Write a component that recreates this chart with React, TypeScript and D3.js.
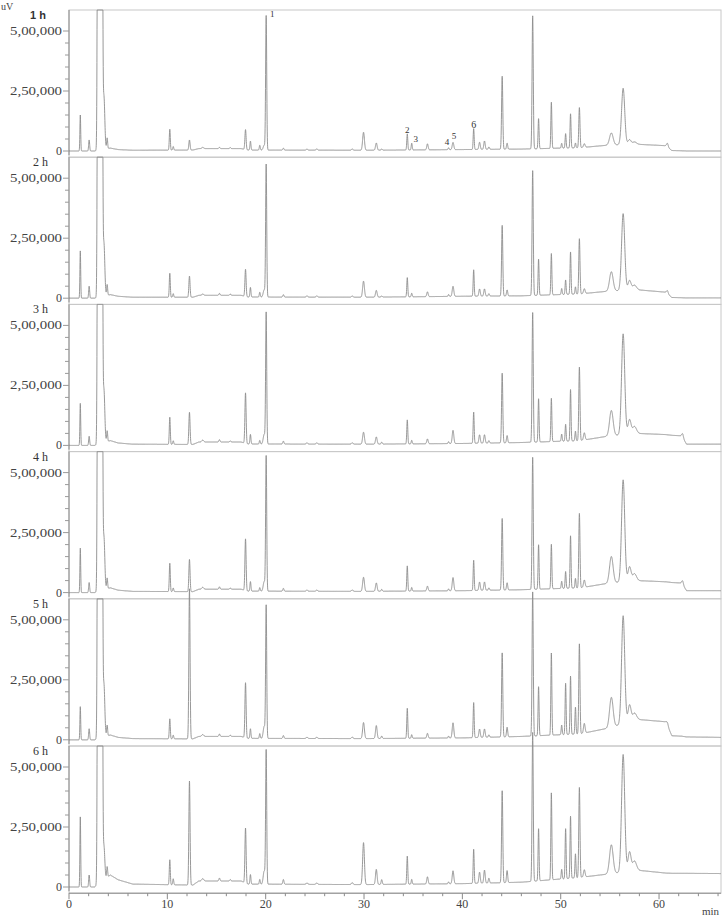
import React from 'react';
import * as d3 from 'd3';

// sample labels, one panel per hour
const panelLabels = ['1 h', '2 h', '3 h', '4 h', '5 h', '6 h'];
const yTicks = [0, 250000, 500000];
const xTicks = [0, 10, 20, 30, 40, 50, 60];

// retention time (min) and width (sigma, min) of each peak
const peakTimes = [1.15, 2.05, 3.55, 3.88, 10.25, 10.6, 12.25, 13.6, 15.3, 16.4, 17.95, 18.45, 19.4, 19.85, 20.05, 21.8, 24.2, 25.2, 28.8, 29.95, 31.25, 31.8, 34.4, 34.85, 36.45, 38.6, 39.05, 41.15, 41.75, 42.25, 42.7, 44.05, 44.55, 47.15, 47.75, 49.05, 50.1, 50.5, 51.0, 51.5, 51.9, 52.4, 55.15, 56.35, 57.0, 57.5, 60.85, 62.4];
const peakWidths = [0.04, 0.05, 0.09, 0.05, 0.05, 0.05, 0.06, 0.1, 0.06, 0.06, 0.06, 0.05, 0.05, 0.1, 0.055, 0.06, 0.08, 0.08, 0.08, 0.09, 0.08, 0.06, 0.05, 0.05, 0.07, 0.05, 0.08, 0.05, 0.07, 0.07, 0.06, 0.06, 0.06, 0.06, 0.05, 0.05, 0.05, 0.05, 0.05, 0.05, 0.06, 0.08, 0.18, 0.16, 0.15, 0.2, 0.08, 0.08];

// peak heights (uV above baseline) per panel
const heights1h = [150000, 46000, 220000, 45000, 87000, 15000, 42000, 5000, 5000, 4000, 83000, 37000, 20000, 20000, 558000, 8000, 4000, 5000, 5000, 75000, 30000, 5000, 67000, 28000, 25000, 8000, 30000, 87000, 30000, 35000, 10000, 304000, 25000, 554000, 125000, 192000, 20000, 60000, 142000, 20000, 167000, 15000, 50000, 235000, 20000, 10000, 15000, 0];
const heights2h = [197000, 50000, 220000, 45000, 100000, 15000, 88000, 5000, 8000, 5000, 113000, 40000, 20000, 30000, 550000, 10000, 5000, 5000, 5000, 67000, 28000, 5000, 80000, 15000, 20000, 8000, 42000, 110000, 30000, 30000, 10000, 294000, 25000, 520000, 150000, 172000, 25000, 60000, 176000, 30000, 230000, 20000, 80000, 320000, 40000, 20000, 12000, 0];
const heights3h = [175000, 38000, 220000, 45000, 113000, 15000, 134000, 8000, 10000, 5000, 210000, 40000, 15000, 40000, 545000, 12000, 5000, 5000, 6000, 50000, 30000, 8000, 100000, 15000, 20000, 8000, 55000, 130000, 35000, 35000, 10000, 290000, 30000, 540000, 180000, 180000, 30000, 70000, 214000, 40000, 306000, 30000, 105000, 420000, 60000, 30000, 0, 15000];
const heights4h = [185000, 42000, 220000, 45000, 118000, 15000, 134000, 8000, 10000, 5000, 215000, 40000, 15000, 40000, 560000, 12000, 5000, 5000, 6000, 59000, 35000, 8000, 105000, 15000, 20000, 8000, 55000, 126000, 35000, 35000, 10000, 298000, 30000, 550000, 185000, 185000, 30000, 70000, 218000, 40000, 310000, 30000, 110000, 425000, 60000, 30000, 0, 15000];
const heights5h = [138000, 46000, 220000, 45000, 83000, 15000, 625000, 8000, 10000, 5000, 229000, 40000, 20000, 50000, 550000, 12000, 5000, 5000, 6000, 67000, 54000, 10000, 125000, 15000, 20000, 8000, 63000, 146000, 35000, 35000, 10000, 350000, 40000, 600000, 204000, 342000, 40000, 213000, 242000, 112000, 375000, 40000, 125000, 450000, 70000, 30000, 12000, 0];
const heights6h = [292000, 50000, 140000, 45000, 104000, 25000, 433000, 10000, 12000, 6000, 229000, 40000, 20000, 55000, 554000, 20000, 6000, 6000, 8000, 175000, 63000, 20000, 117000, 20000, 30000, 8000, 54000, 142000, 46000, 54000, 20000, 383000, 50000, 620000, 217000, 362000, 40000, 208000, 258000, 100000, 375000, 30000, 120000, 490000, 80000, 40000, 0, 0];

// solvent front (goes off scale in every run)
const solventTimes = [3.0, 3.3];
const solventHeight = 5000000;

// baseline drift knots (min) and values per panel
const baseTimes = [0, 2.6, 4.2, 5, 6.5, 12.6, 13.2, 17.5, 18.2, 30, 40, 46, 52, 55, 57.8, 60.7, 61.3, 62.3, 62.8, 66.3];
const base1h = [0, 0, 12000, 6000, 3000, 4000, 10000, 10000, 4000, 3000, 6000, 8000, 14000, 25000, 28000, 22000, 2000, 1000, 0, 0];
const base2h = [0, 0, 15000, 8000, 4000, 4000, 12000, 12000, 5000, 4000, 8000, 10000, 18000, 30000, 35000, 25000, 3000, 2000, 1000, 1000];
const base3h = [0, 0, 20000, 10000, 5000, 4000, 14000, 14000, 6000, 5000, 8000, 12000, 20000, 40000, 50000, 45000, 42000, 40000, 5000, 5000];
const base4h = [0, 0, 20000, 10000, 5000, 4000, 14000, 14000, 6000, 5000, 8000, 12000, 20000, 40000, 50000, 45000, 42000, 40000, 8000, 8000];
const base5h = [0, 0, 20000, 10000, 5000, 4000, 14000, 14000, 6000, 5000, 8000, 14000, 25000, 50000, 85000, 75000, 17000, 15000, 12000, 10000];
const base6h = [0, 0, 50000, 30000, 12000, 8000, 25000, 25000, 12000, 10000, 14000, 20000, 40000, 55000, 70000, 58000, 57000, 57000, 57000, 56000];

// numbered peaks in the 1 h run
const markedPeaks = ['1', '2', '3', '4', '5', '6'];
const markedTimes = [20.05, 34.4, 34.85, 39.05, 39.05, 41.15];

const heights = [heights1h, heights2h, heights3h, heights4h, heights5h, heights6h];
const baselines = [base1h, base2h, base3h, base4h, base5h, base6h];

const W = 723;
const H = 919;
const left = 69;
const right = 721;
const firstTop = 10;
const panelH = 147.2;

const x = d3.scaleLinear().domain([0, 66.3]).range([left, right]);

// 500000 -> "5,00,000"
const indian = (v: number) => {
  if (v === 0) return '0';
  const s = String(v);
  const last3 = s.slice(-3);
  const rest = s.slice(0, -3).replace(/\B(?=(\d{2})+(?!\d))/g, ',');
  return rest + ',' + last3;
};

function signal(p: number, t: number) {
  const base = d3.scaleLinear().domain(baseTimes).range(baselines[p])(t);
  let v = base;
  const h = heights[p];
  for (let i = 0; i < peakTimes.length; i++) {
    const d = t - peakTimes[i];
    const s = peakWidths[i];
    if (Math.abs(d) > 6 * s) continue;
    v += h[i] * Math.exp(-(d * d) / (2 * s * s));
  }
  for (const st of solventTimes) {
    const d = t - st;
    if (Math.abs(d) < 0.6) v += solventHeight * Math.exp(-(d * d) / (2 * 0.07 * 0.07));
  }
  return v;
}

const times = d3.range(0, 66.3, 0.01);

function Panel({ p }: { p: number }) {
  const top = firstTop + p * panelH;
  const zero = top + 141;
  const y = d3.scaleLinear().domain([0, 500000]).range([zero, zero - 120]);
  const topVal = y.invert(top);
  const pts: [number, number][] = times.map((t) => {
    let v = signal(p, t);
    if (t < 4.5) v = Math.min(v, topVal);
    return [x(t), y(v)];
  });
  const line = d3.line()(pts) || '';
  const minor = d3.range(0, 500001, 50000);
  return (
    <g>
      <defs>
        <clipPath id={`clip${p}`}>
          <rect x={left} y={top - 14} width={right - left} height={panelH + 14} />
        </clipPath>
      </defs>
      <rect x={left} y={top} width={right - left} height={panelH} fill="none" stroke="#c8c8c8" strokeWidth={1} />
      <line x1={left} x2={left} y1={top} y2={top + panelH - 2} stroke="#8a8a8a" />
      {minor.map((v) => (
        <line key={v} x1={left - (yTicks.includes(v) ? 6 : 4)} x2={left} y1={y(v)} y2={y(v)} stroke="#9a9a9a" />
      ))}
      {yTicks.map((v) => (
        <text
          key={v}
          x={left - 7}
          y={y(v) + 4}
          textAnchor="end"
          fontFamily="Liberation Serif"
          fontSize={12}
          fill="#444"
          {...(v > 0 ? { textLength: 52, lengthAdjust: 'spacingAndGlyphs' } : {})}
        >
          {indian(v)}
        </text>
      ))}
      <text
        x={p === 0 ? 30 : 33}
        y={top + 9}
        fontFamily={p === 0 ? 'Liberation Sans' : 'Liberation Serif'}
        fontWeight={p === 0 ? 'bold' : 'normal'}
        fontSize={p === 0 ? 11 : 12}
        fill="#333"
      >
        {panelLabels[p]}
      </text>
      <path d={line} fill="none" stroke="#8c8c8c" strokeWidth={0.9} clipPath={`url(#clip${p})`} />
    </g>
  );
}

export default function App() {
  const top0 = firstTop;
  const zero0 = top0 + 141;
  const y0 = d3.scaleLinear().domain([0, 500000]).range([zero0, zero0 - 120]);
  const labelOffsets: [number, number][] = [[6, 1], [0, -1], [4, -1], [-6, 3], [1, -3], [0, -1]];
  const axisY = firstTop + 6 * panelH;
  const minorX = d3.range(0, 66.3, 2);
  return (
    <svg width={W} height={H} style={{ position: 'absolute', left: 0, top: 0, background: '#fff' }}>
      <rect width={W} height={H} fill="#fff" />
      <text x={1} y={10} fontFamily="Liberation Serif" fontSize={10} fill="#444">uV</text>
      {panelLabels.map((_, p) => (
        <Panel key={p} p={p} />
      ))}
      {markedPeaks.map((lab, i) => {
        const t = markedTimes[i];
        const v = signal(0, t);
        const [dx, dy] = labelOffsets[i];
        return (
          <text
            key={lab}
            x={x(t) + dx}
            y={y0(v) + dy}
            textAnchor="middle"
            fontFamily="Liberation Serif"
            fontSize={lab === '6' ? 10 : 9}
            fill="#333"
          >
            {lab}
          </text>
        );
      })}
      <line x1={left} x2={right} y1={axisY} y2={axisY} stroke="#8a8a8a" />
      {minorX.map((t) => (
        <line key={t} x1={x(t)} x2={x(t)} y1={axisY} y2={axisY + (t % 10 === 0 ? 6 : 3)} stroke="#8a8a8a" />
      ))}
      {xTicks.map((t) => (
        <text key={t} x={x(t)} y={axisY + 15} textAnchor="middle" fontFamily="Liberation Serif" fontSize={12} fill="#444">
          {t}
        </text>
      ))}
      <text x={719} y={axisY + 22} textAnchor="end" fontFamily="Liberation Serif" fontSize={11} fill="#444">min</text>
    </svg>
  );
}
